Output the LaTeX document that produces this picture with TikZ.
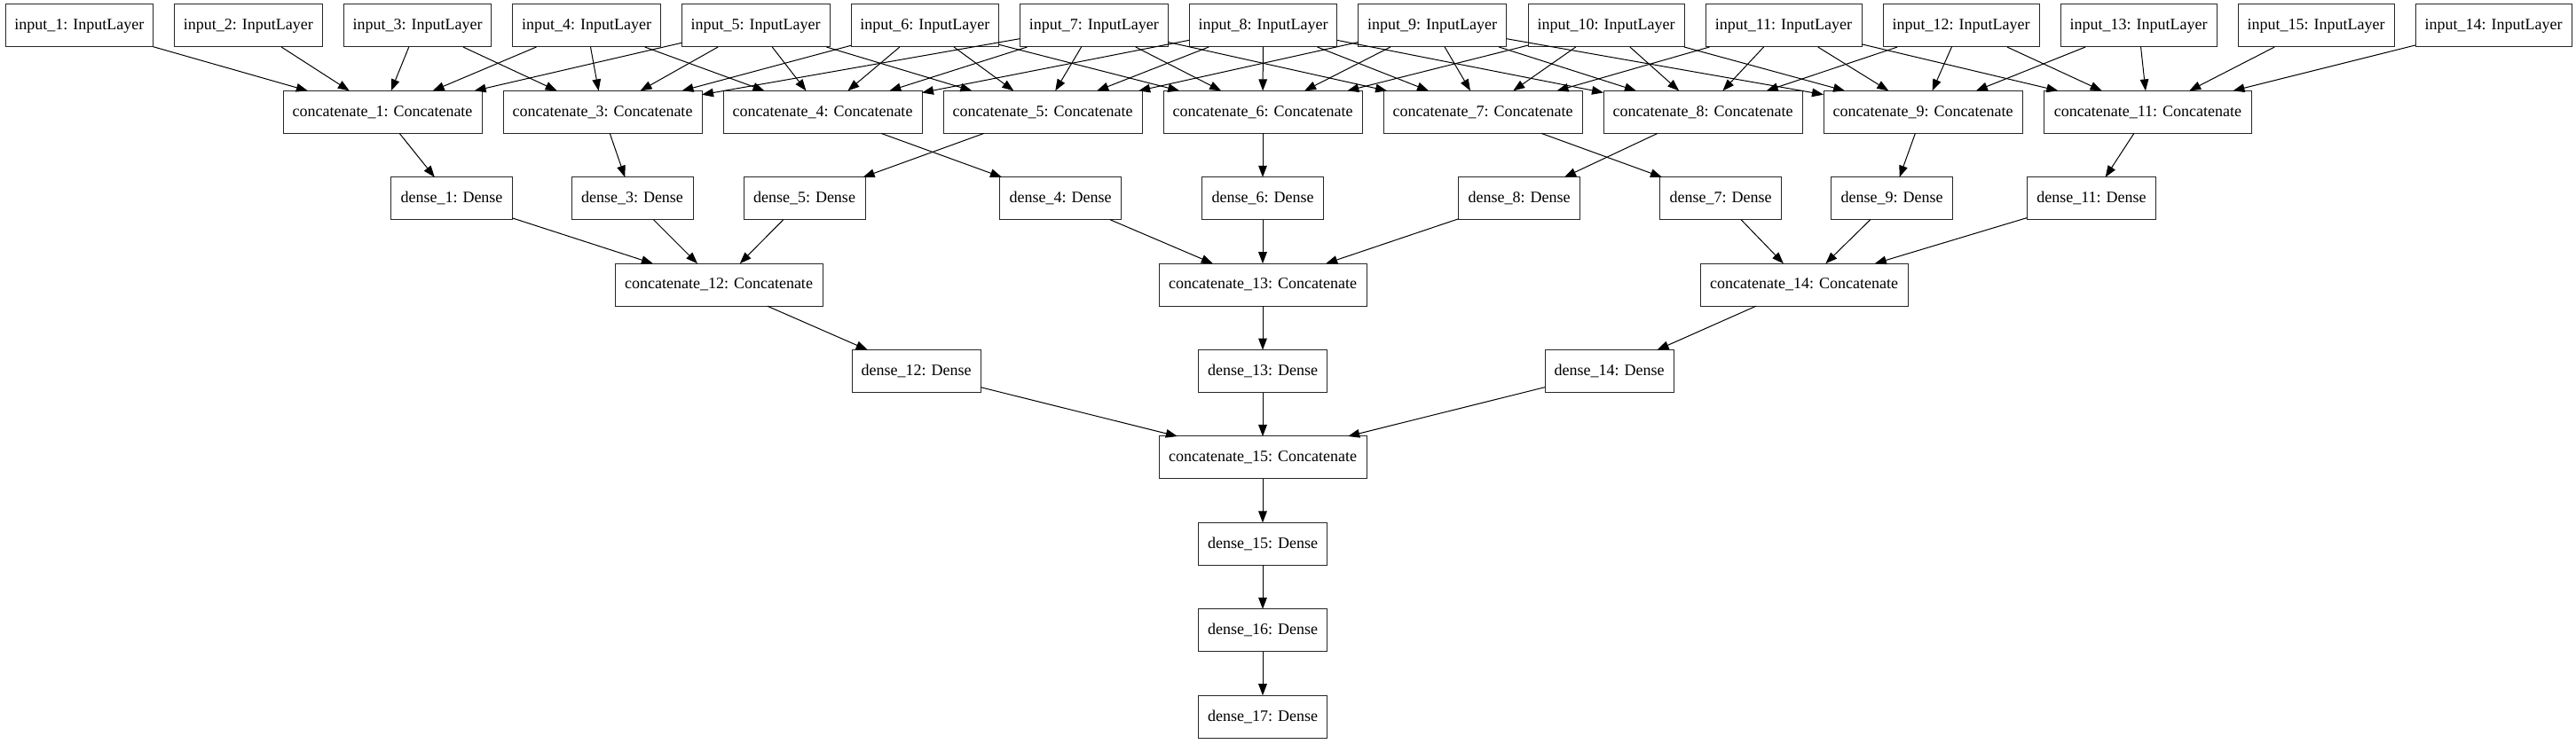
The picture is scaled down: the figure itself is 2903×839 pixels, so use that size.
\documentclass[tikz,border=0pt]{standalone}
\usepackage{fontspec}
\setmainfont{Liberation Serif}
\usetikzlibrary{arrows.meta}
\tikzset{
  box/.style={draw=black!85, line width=0.5pt, inner sep=1pt, outer sep=0pt, minimum height=24pt, fill=white, font=\fontsize{9}{10}\selectfont},
  inA/.style={box, minimum width=83.3pt},
  inB/.style={box, minimum width=88pt},
  ccA/.style={box, minimum width=112pt},
  ccB/.style={box, minimum width=117pt},
  dnA/.style={box, minimum width=68.5pt},
  dnB/.style={box, minimum width=72.5pt},
  edge/.style={line width=0.5pt, -{Triangle[length=6.5pt,width=4.8pt]}}
}
\begin{document}
\begin{tikzpicture}[x=0.5pt, y=-0.5pt]
\useasboundingbox (0,0) rectangle (2903,839);
% inputs
\node[inA] (in1) at (89.3,29) {input\_1: InputLayer};
\node[inA] (in2) at (279.9,29) {input\_2: InputLayer};
\node[inA] (in3) at (470.5,29) {input\_3: InputLayer};
\node[inA] (in4) at (661.1,29) {input\_4: InputLayer};
\node[inA] (in5) at (851.7,29) {input\_5: InputLayer};
\node[inA] (in6) at (1042.3,29) {input\_6: InputLayer};
\node[inA] (in7) at (1232.9,29) {input\_7: InputLayer};
\node[inA] (in8) at (1423.5,29) {input\_8: InputLayer};
\node[inA] (in9) at (1614.1,29) {input\_9: InputLayer};
\node[inB] (in10) at (1810,29) {input\_10: InputLayer};
\node[inB] (in11) at (2010,29) {input\_11: InputLayer};
\node[inB] (in12) at (2210,29) {input\_12: InputLayer};
\node[inB] (in13) at (2410,29) {input\_13: InputLayer};
\node[inB] (in15) at (2610,29) {input\_15: InputLayer};
\node[inB] (in14) at (2810,29) {input\_14: InputLayer};
% concatenate row 1
\node[ccA] (cc1) at (431,126.4) {concatenate\_1: Concatenate};
\node[ccA] (cc3) at (679,126.4) {concatenate\_3: Concatenate};
\node[ccA] (cc4) at (927,126.4) {concatenate\_4: Concatenate};
\node[ccA] (cc5) at (1175,126.4) {concatenate\_5: Concatenate};
\node[ccA] (cc6) at (1423,126.4) {concatenate\_6: Concatenate};
\node[ccA] (cc7) at (1671,126.4) {concatenate\_7: Concatenate};
\node[ccA] (cc8) at (1919,126.4) {concatenate\_8: Concatenate};
\node[ccA] (cc9) at (2167,126.4) {concatenate\_9: Concatenate};
\node[ccB] (cc11) at (2420.5,126.4) {concatenate\_11: Concatenate};
% dense row 1
\node[dnA] (dn1) at (509,223.8) {dense\_1: Dense};
\node[dnA] (dn3) at (712.5,223.8) {dense\_3: Dense};
\node[dnA] (dn5) at (906.5,223.8) {dense\_5: Dense};
\node[dnA] (dn4) at (1195,223.8) {dense\_4: Dense};
\node[dnA] (dn6) at (1423,223.8) {dense\_6: Dense};
\node[dnA] (dn8) at (1712,223.8) {dense\_8: Dense};
\node[dnA] (dn7) at (1939,223.8) {dense\_7: Dense};
\node[dnA] (dn9) at (2132,223.8) {dense\_9: Dense};
\node[dnB] (dn11) at (2357,223.8) {dense\_11: Dense};
% concatenate row 2
\node[ccB] (cc12) at (810,321.2) {concatenate\_12: Concatenate};
\node[ccB] (cc13) at (1423,321.2) {concatenate\_13: Concatenate};
\node[ccB] (cc14) at (2033,321.2) {concatenate\_14: Concatenate};
% dense row 2
\node[dnB] (dn12) at (1032.5,418.6) {dense\_12: Dense};
\node[dnB] (dn13) at (1423,418.6) {dense\_13: Dense};
\node[dnB] (dn14) at (1813.5,418.6) {dense\_14: Dense};
% final chain
\node[ccB] (cc15) at (1423,516) {concatenate\_15: Concatenate};
\node[dnB] (dn15) at (1423,613.4) {dense\_15: Dense};
\node[dnB] (dn16) at (1423,710.8) {dense\_16: Dense};
\node[dnB] (dn17) at (1423,808.2) {dense\_17: Dense};
% edges
\foreach \k in {1,3,4,5,6,7,8,9,11} {
  \foreach \j in {0,...,4} {
    \pgfmathtruncatemacro\i{\k+\j}
    \draw[edge] (in\i) -- (cc\k);
  }
  \draw[edge] (cc\k) -- (dn\k);
}
\foreach \a/\b in {dn1/cc12, dn3/cc12, dn5/cc12, dn4/cc13, dn6/cc13, dn8/cc13, dn7/cc14, dn9/cc14, dn11/cc14, cc12/dn12, cc13/dn13, cc14/dn14, dn12/cc15, dn13/cc15, dn14/cc15, cc15/dn15, dn15/dn16, dn16/dn17}
  \draw[edge] (\a) -- (\b);
\end{tikzpicture}
\end{document}
